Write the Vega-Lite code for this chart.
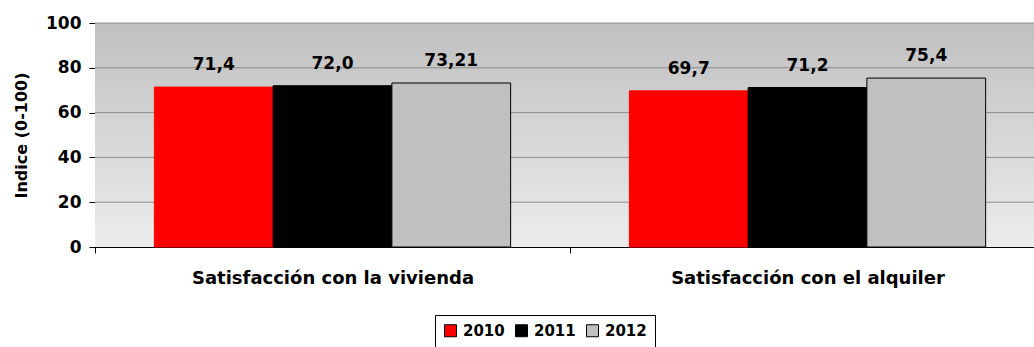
{
  "$schema": "https://vega.github.io/schema/vega-lite/v6.json",
  "width": 939,
  "height": 224,
  "autosize": {"type": "none"},
  "padding": {"left": 95, "top": 23, "right": 0, "bottom": 100},
  "background": "white",
  "config": {
    "view": {"stroke": null},
    "font": "DejaVu Sans",
    "axisX": {
      "labelAngle": 0, "labelFont": "DejaVu Sans", "labelFontSize": 18,
      "labelFontWeight": "bold", "labelColor": "#000", "tickBand": "extent", "tickSize": 6,
      "tickColor": "#000", "domainColor": "#000", "labelPadding": 16, "labelLimit": 0, "grid": false
    },
    "axisY": {
      "tickCount": 5, "grid": false,
      "tickSize": 6, "tickColor": "#000", "domainColor": "#000",
      "labelFont": "DejaVu Sans", "labelFontSize": 17, "labelFontWeight": "bold",
      "labelColor": "#000", "labelPadding": 8,
      "titleFont": "DejaVu Sans", "titleFontSize": 16, "titleFontWeight": "bold",
      "titleColor": "#000", "titlePadding": 16
    }
  },
  "data": {
    "values": [
      {"cat": "Satisfacción con la vivienda", "year": "2010", "value": 71.4, "label": "71,4"},
      {"cat": "Satisfacción con la vivienda", "year": "2011", "value": 72.0, "label": "72,0"},
      {"cat": "Satisfacción con la vivienda", "year": "2012", "value": 73.21, "label": "73,21"},
      {"cat": "Satisfacción con el alquiler", "year": "2010", "value": 69.7, "label": "69,7"},
      {"cat": "Satisfacción con el alquiler", "year": "2011", "value": 71.2, "label": "71,2"},
      {"cat": "Satisfacción con el alquiler", "year": "2012", "value": 75.4, "label": "75,4"}
    ]
  },
  "layer": [
    {
      "data": {"values": [{"lo": 0, "hi": 100}]},
      "mark": {
        "type": "rect",
        "fill": {
          "gradient": "linear",
          "x1": 0, "y1": 0, "x2": 0, "y2": 1,
          "stops": [
            {"offset": 0, "color": "#c0c0c0"},
            {"offset": 1, "color": "#ececec"}
          ]
        }
      },
      "encoding": {
        "y": {"field": "hi", "type": "quantitative", "title": "Indice (0-100)", "scale": {"domain": [0, 100]}},
        "y2": {"field": "lo"}
      }
    },
    {
      "data": {"values": [{"g": 20}, {"g": 40}, {"g": 60}, {"g": 80}, {"g": 100}]},
      "mark": {"type": "rule", "color": "#8c8c8c", "strokeWidth": 1},
      "encoding": {
        "y": {"field": "g", "type": "quantitative", "title": "Indice (0-100)"}
      }
    },
    {
      "mark": {"type": "bar", "strokeWidth": 1},
      "encoding": {
        "x": {
          "field": "cat", "type": "nominal", "sort": null, "title": null,
          "scale": {"range": [0, 950], "paddingInner": 0, "paddingOuter": 0}
        },
        "xOffset": {
          "field": "year", "type": "nominal",
          "scale": {"paddingInner": 0, "paddingOuter": 0.5}
        },
        "y": {"field": "value", "type": "quantitative", "title": "Indice (0-100)"},
        "fill": {
          "field": "year", "type": "nominal",
          "scale": {"domain": ["2010", "2011", "2012"], "range": ["#FF0000", "#000000", "#C0C0C0"]},
          "legend": {
            "title": null, "orient": "none", "legendX": 340, "legendY": 292,
            "direction": "horizontal", "symbolType": "square", "symbolSize": 144,
            "symbolStrokeColor": "#000", "symbolStrokeWidth": 1,
            "labelFont": "DejaVu Sans", "labelFontSize": 15, "labelFontWeight": "bold",
            "labelColor": "#000", "strokeColor": "#000", "padding": 8,
            "columnPadding": 8, "labelOffset": 5, "fillColor": "#fff"
          }
        },
        "stroke": {
          "condition": {"test": "datum.year === '2010'", "value": "#FF0000"},
          "value": "#000000"
        }
      }
    },
    {
      "mark": {
        "type": "text", "dy": -22, "baseline": "middle", "font": "DejaVu Sans",
        "fontSize": 17, "fontWeight": "bold", "color": "#000"
      },
      "encoding": {
        "x": {"field": "cat", "type": "nominal", "sort": null, "title": null},
        "xOffset": {"field": "year", "type": "nominal"},
        "y": {"field": "value", "type": "quantitative", "title": "Indice (0-100)"},
        "text": {"field": "label"}
      }
    }
  ]
}
